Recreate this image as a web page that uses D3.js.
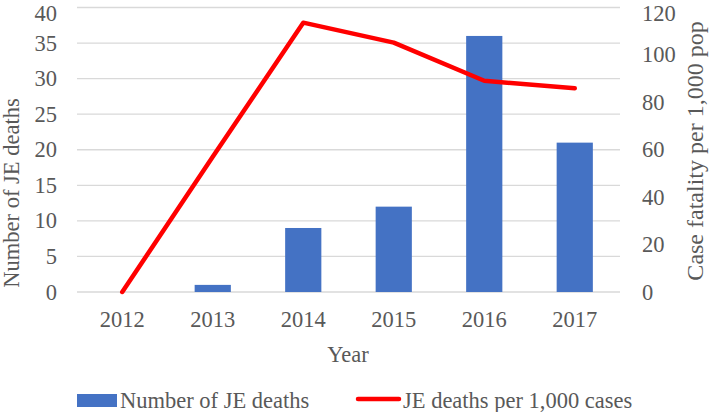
<!DOCTYPE html>
<html><head><meta charset="utf-8">
<script src="https://cdn.jsdelivr.net/npm/d3@7"></script>
<style>body{margin:0;background:#fff}svg{display:block}text{font-family:"Liberation Serif","Times New Roman",serif;fill:#595959}</style>
</head><body><svg id="c" width="709" height="412"></svg>
<script>
const years = ["2012","2013","2014","2015","2016","2017"];
const deaths = [0, 1, 9, 12, 36, 21];
const perThousand = [0, 57, 113.6, 105.2, 89.1, 85.9];
const leftTicks = [0,5,10,15,20,25,30,35,40];
const rightTicks = [0,20,40,60,80,100,120];
const seriesNames = ["Number of JE deaths","JE deaths per 1,000 cases"];

const svg = d3.select("#c");
const x = d3.scaleBand().domain(years).range([77,620]).paddingInner(0.6).paddingOuter(0.3);
const yL = d3.scaleLinear().domain([0,40]).range([292,7.5]);
const yR = d3.scaleLinear().domain([0,120]).range([292,7.5]);
const fs = 22.5;

// gridlines
svg.append("g").selectAll("line").data(leftTicks).join("line")
  .attr("x1",77).attr("x2",620).attr("y1",d=>yL(d)).attr("y2",d=>yL(d))
  .attr("stroke","#d9d9d9").attr("stroke-width",1.3);

// left ticks
svg.append("g").selectAll("text").data(leftTicks).join("text")
  .attr("x",57).attr("y",d=>Math.max(yL(d)+7.5,20.5)).attr("text-anchor","end").attr("font-size",fs).text(d=>d);
// right ticks
svg.append("g").selectAll("text").data(rightTicks).join("text")
  .attr("x",642).attr("y",d=>Math.max(yR(d)+7.5,20.5)).attr("text-anchor","start").attr("font-size",fs).text(d=>d);
// x ticks
svg.append("g").selectAll("text").data(years).join("text")
  .attr("x",d=>x(d)+x.bandwidth()/2).attr("y",327).attr("text-anchor","middle").attr("font-size",fs).text(d=>d);

// bars
svg.append("g").selectAll("rect").data(years).join("rect")
  .attr("x",d=>x(d)).attr("width",x.bandwidth())
  .attr("y",(d,i)=>yL(deaths[i])).attr("height",(d,i)=>yL(0)-yL(deaths[i]))
  .attr("fill","#4472C4");

// line
const line = d3.line().x((d,i)=>x(years[i])+x.bandwidth()/2).y(d=>yR(d));
svg.append("path").datum(perThousand).attr("d",line).attr("fill","none")
  .attr("stroke","#FF0000").attr("stroke-width",4.5).attr("stroke-linejoin","round").attr("stroke-linecap","round");

// axis titles
svg.append("text").attr("x",348).attr("y",362).attr("text-anchor","middle").attr("font-size",fs).text("Year");
svg.append("text").attr("transform","translate(19,193) rotate(-90)").attr("text-anchor","middle").attr("font-size",fs).text("Number of JE deaths");
svg.append("text").attr("transform","translate(703,151) rotate(-90)").attr("text-anchor","middle").attr("font-size",24).text("Case fatality per 1,000 pop");

// legend
svg.append("rect").attr("x",77).attr("y",394).attr("width",40).attr("height",13).attr("fill","#4472C4");
svg.append("text").attr("x",120).attr("y",408).attr("font-size",fs).text(seriesNames[0]);
svg.append("line").attr("x1",358).attr("x2",399).attr("y1",399).attr("y2",399).attr("stroke","#FF0000").attr("stroke-width",4.5).attr("stroke-linecap","round");
svg.append("text").attr("x",403).attr("y",408).attr("font-size",fs).text(seriesNames[1]);
</script></body></html>
